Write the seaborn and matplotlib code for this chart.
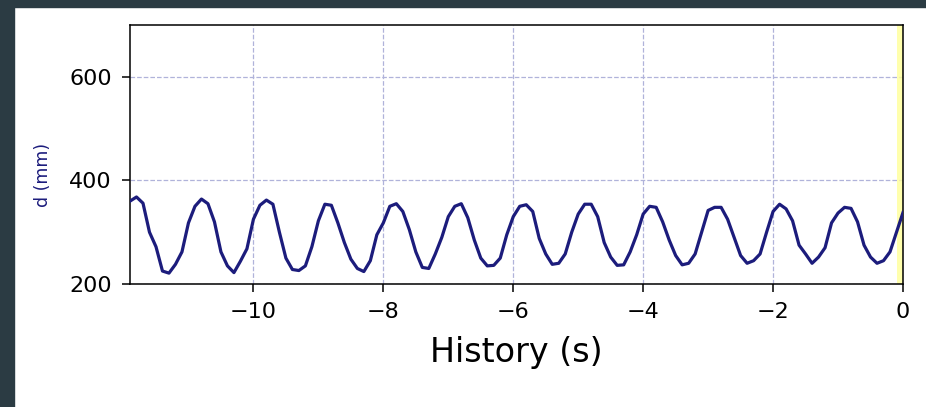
import numpy as np
import pandas as pd
import matplotlib
matplotlib.use("Agg")
import matplotlib.pyplot as plt
from matplotlib.patches import Rectangle
import seaborn as sns

# sample step of the history buffer (s), 120 samples ending at t = 0
dt = 0.1
n_samples = 120

# distance readings (mm), oldest first, one row per second
d_mm = [
    360, 368, 356, 300, 272, 225, 221, 238, 262, 318,
    350, 364, 355, 320, 262, 235, 222, 244, 268, 325,
    352, 362, 354, 300, 250, 228, 226, 235, 272, 322,
    354, 352, 318, 280, 248, 230, 224, 245, 295, 318,
    350, 355, 340, 305, 262, 232, 230, 258, 290, 330,
    350, 355, 328, 285, 250, 235, 236, 250, 295, 330,
    350, 353, 340, 288, 258, 238, 240, 258, 300, 335,
    354, 354, 330, 280, 252, 236, 237, 262, 295, 335,
    350, 348, 320, 285, 255, 237, 240, 258, 300, 342,
    348, 348, 325, 290, 255, 240, 245, 258, 300, 340,
    354, 345, 322, 275, 258, 240, 252, 270, 318, 337,
    348, 346, 320, 275, 252, 240, 245, 262, 300, 338,
]
t_s = np.round((np.arange(n_samples) - (n_samples - 1)) * dt, 2)

df = pd.DataFrame({"t": t_s, "d": d_mm})

x_ticks = [-10, -8, -6, -4, -2, 0]
y_ticks = [200, 400, 600]

fig = plt.figure(figsize=(9.26, 4.07), dpi=100)
fig.patch.set_facecolor("white")
# dark frame of the screenshot (left and top)
fig.patches.append(Rectangle((0, 0), 14 / 926, 1, transform=fig.transFigure,
                             color="#2b3b43", zorder=0))
fig.patches.append(Rectangle((0, 1 - 7 / 407), 1, 7 / 407, transform=fig.transFigure,
                             color="#2b3b43", zorder=0))

ax = fig.add_axes([130 / 926, 1 - 284 / 407, 773 / 926, 259 / 407])
ax.axvspan(-0.09, 0, color="#ffff99", alpha=0.8, lw=0, zorder=1)
sns.lineplot(data=df, x="t", y="d", ax=ax, color="#1c1c7c", lw=2.3,
             estimator=None, zorder=3)

ax.set_xlim(-11.9, 0)
ax.set_ylim(200, 700)
ax.set_xticks(x_ticks)
ax.set_yticks(y_ticks)
ax.grid(True, ls="--", color="#b0b3da", lw=0.9)
ax.set_axisbelow(True)
ax.tick_params(labelsize=16, length=6, width=1.1, pad=7)
for s in ax.spines.values():
    s.set_linewidth(1.1)
    s.set_color("black")

ax.set_xlabel("History (s)", fontsize=24, labelpad=10)
ax.set_ylabel("d (mm)", fontsize=12.5, color="#1c1c7c")
ax.yaxis.set_label_coords(-0.101, 0.42)

fig.savefig("out.png", dpi=100)
